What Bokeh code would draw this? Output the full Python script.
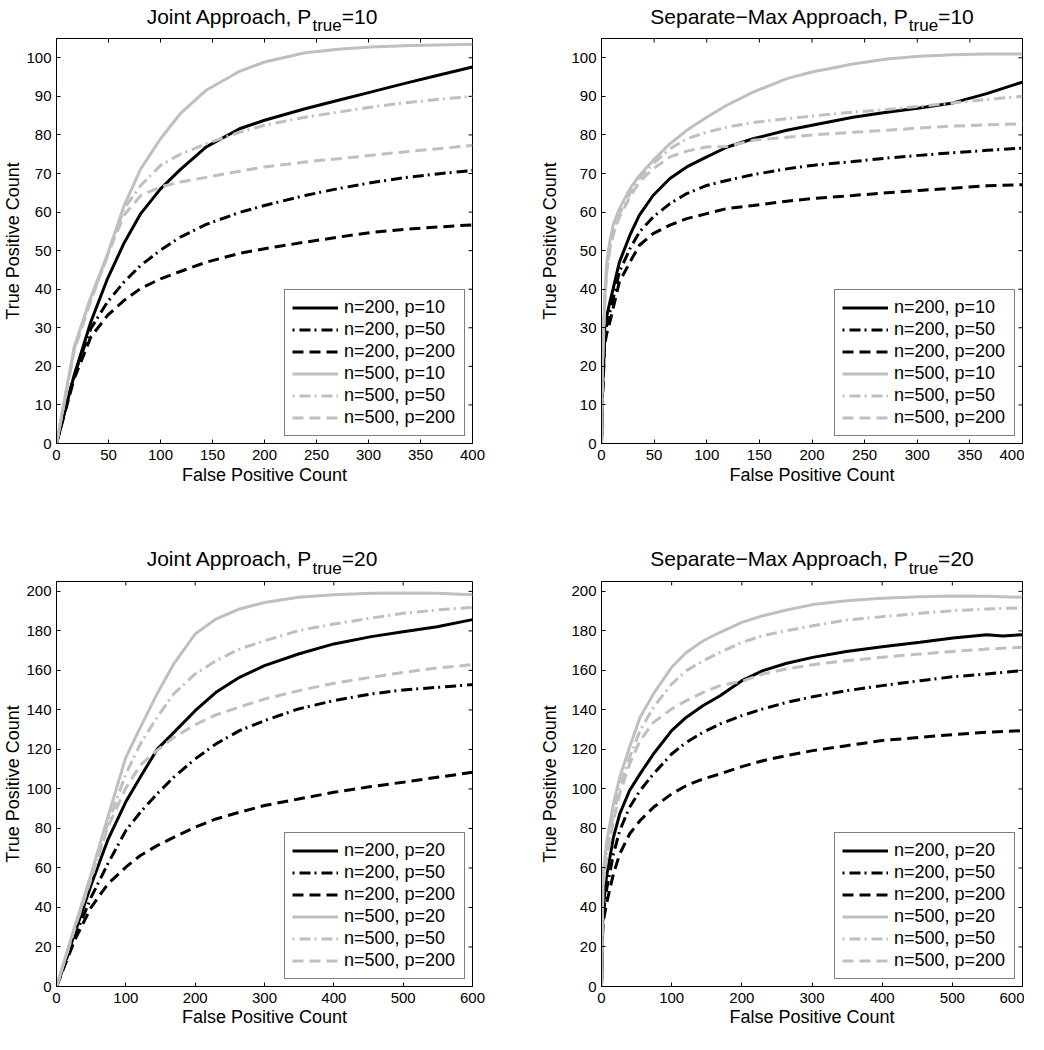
from bokeh.plotting import figure
from bokeh.layouts import column, row
from bokeh.models import FixedTicker, Range1d
from bokeh.core.properties import value
from bokeh.embed import file_html
from bokeh.resources import INLINE

# ---------------- data ----------------
LABELS_10 = ["n=200, p=10", "n=200, p=50", "n=200, p=200",
             "n=500, p=10", "n=500, p=50", "n=500, p=200"]
LABELS_20 = ["n=200, p=20", "n=200, p=50", "n=200, p=200",
             "n=500, p=20", "n=500, p=50", "n=500, p=200"]
X_LABEL = "False Positive Count"
Y_LABEL = "True Positive Count"

# Joint approach, P_true = 10
x_tl = [0, 17, 33, 49, 65, 81, 100, 119, 144, 176, 200, 239, 271, 302, 334, 366, 400]
tl_n200_p10 = [0, 17.7, 31.5, 42.7, 52, 59.6, 66, 71, 76.9, 81.6, 83.8, 86.8, 89, 91.1, 93.3, 95.4, 97.6]
tl_n200_p50 = [0, 17.7, 29.8, 36.7, 41.9, 46.2, 50.1, 53.5, 56.8, 59.9, 61.7, 64.3, 66.1, 67.6, 68.9, 69.9, 70.8]
tl_n200_p200 = [0, 16.8, 27.6, 33.2, 37.1, 40.2, 42.7, 44.6, 47, 49.3, 50.5, 52.2, 53.5, 54.7, 55.5, 56.1, 56.7]
tl_n500_p10 = [0, 25, 38, 49, 61.7, 71.2, 79, 85.5, 91.6, 96.5, 98.9, 101.3, 102.2, 102.8, 103.1, 103.3, 103.5]
tl_n500_p50 = [0, 24.5, 37.5, 48.5, 60.9, 66.9, 72.1, 75, 77.7, 80.7, 82.5, 84.6, 85.9, 87.2, 88.3, 89.2, 90]
tl_n500_p200 = [0, 24, 37, 48.8, 59.2, 64.3, 66.5, 67.8, 69, 70.6, 71.7, 73, 73.8, 74.7, 75.6, 76.4, 77.3]

# Separate-Max approach, P_true = 10
x_tr = [0, 1, 3, 5, 8, 11, 17, 27, 36, 49, 65, 81, 100, 119, 144, 176, 200, 239, 271, 302, 334, 366, 400]
tr_n200_p10 = [0, 14, 29.8, 33, 36.7, 40, 47, 54, 59.2, 64.3, 68.7, 71.7, 74.3, 76.8, 79, 81.2, 82.5, 84.6, 85.9, 87, 88.3, 90.7, 93.7]
tr_n200_p50 = [0, 13, 27.2, 30.5, 34.1, 37.5, 44.5, 50.5, 54.8, 58.7, 62.2, 64.8, 66.9, 68.2, 69.7, 71.2, 72.1, 73.1, 74, 74.7, 75.4, 76, 76.6]
tr_n200_p200 = [0, 12, 25.5, 28.5, 31.5, 35, 41.9, 47, 51.4, 54.4, 56.6, 58.3, 59.6, 60.9, 61.7, 62.8, 63.5, 64.3, 65, 65.6, 66.2, 66.8, 67.1]
tr_n500_p10 = [0, 22, 38, 47, 52.5, 56.6, 60.9, 66, 69.5, 73.4, 77.7, 81.2, 84.6, 87.7, 91.1, 94.6, 96.3, 98.4, 99.7, 100.4, 100.8, 101, 101]
tr_n500_p50 = [0, 21, 37, 45.3, 51, 54.8, 59.6, 64.8, 68.7, 72.5, 76.4, 79, 80.7, 82, 83.2, 84.2, 84.9, 85.9, 86.6, 87.4, 88.3, 89.2, 90]
tr_n500_p200 = [0, 20, 36, 44.5, 50.5, 54, 58.7, 63.9, 67.8, 71.2, 74.3, 75.8, 76.9, 77.0, 78.6, 79.4, 80, 80.7, 81.2, 81.8, 82.3, 82.6, 82.9]

# Joint approach, P_true = 20
x_bl = [0, 26, 50, 74, 100, 121, 145, 169, 200, 230, 264, 300, 349, 400, 454, 500, 549, 600]
bl_n200_p20 = [0, 26.6, 51.5, 74.2, 93.5, 106, 120, 128.5, 139.6, 148.9, 156.5, 162.4, 168.3, 173.4, 177.1, 179.6, 182.1, 185.7]
bl_n200_p50 = [0, 25, 45.2, 62.1, 78.9, 88.2, 97.5, 105.9, 115.2, 122.8, 129.5, 134.6, 140.5, 144.7, 148.1, 150.1, 151.4, 152.8]
bl_n200_p200 = [0, 23.3, 40.1, 51.9, 60.4, 66.3, 71.3, 75.5, 80.6, 84.8, 88.2, 91.6, 94.9, 98.3, 101.2, 103.4, 105.9, 108.4]
bl_n500_p20 = [0, 30, 57, 85.7, 116, 131.2, 148.1, 163.2, 178.5, 186, 191.1, 194.4, 197, 198.3, 199, 199.2, 199, 198.3]
bl_n500_p50 = [0, 29.2, 55.3, 82.3, 107.6, 122.8, 136.3, 148.1, 158.2, 164.9, 170.8, 175, 180.1, 183.5, 186.5, 188.9, 190.6, 191.9]
bl_n500_p200 = [0, 29.2, 54.5, 80.6, 100.5, 112, 119.5, 126, 132.5, 137.5, 141.5, 145.5, 149.7, 153.5, 156.5, 159, 161.2, 162.9]

# Separate-Max approach, P_true = 20
x_br = [0, 2, 7, 17, 26, 40, 55, 74, 100, 121, 145, 169, 200, 230, 264, 301, 349, 400, 454, 501, 549, 572, 600]
br_n200_p20 = [0, 38.4, 55.3, 75.5, 87.4, 99.2, 107.6, 117.7, 129.5, 136.3, 142.2, 147.2, 154.8, 159.9, 163.6, 166.6, 169.6, 172, 174.2, 176.4, 178.1, 177.4, 178.1]
br_n200_p50 = [0, 35.1, 48.6, 67.1, 78.9, 90.7, 99.2, 107.6, 117.7, 123.6, 128.7, 132.9, 137.1, 140.5, 143.8, 146.7, 149.7, 152.3, 154.8, 156.8, 158.2, 159, 159.9]
br_n200_p200 = [0, 31.7, 41.8, 57, 67.1, 77.2, 84, 90.7, 97.5, 101.7, 105.1, 107.6, 111.3, 114.3, 116.9, 119.4, 121.9, 124.5, 126.1, 127.5, 128.7, 129.1, 129.5]
br_n500_p20 = [0, 55.3, 72.2, 92.4, 105.9, 121.1, 136.3, 148.1, 161.6, 169.1, 175, 179.3, 184.3, 187.7, 190.6, 193.3, 195.3, 196.5, 197.3, 197.6, 197.5, 197.3, 197]
br_n500_p50 = [0, 51.9, 67.1, 87.4, 100.8, 116, 129.5, 141.3, 153.1, 159.9, 164.9, 169.1, 174.2, 177.6, 180.1, 182.6, 185.5, 187.2, 188.9, 190.2, 191.1, 191.4, 191.6]
br_n500_p200 = [0, 50.3, 63.7, 84, 97.5, 112.6, 124.5, 133.7, 140.5, 144.7, 148.9, 152.3, 154.5, 158.2, 160.7, 162.9, 164.9, 166.6, 168.3, 169.6, 170.8, 171.2, 171.7]

# ---------------- styling ----------------
FONT = "Liberation Sans"
BLACK = "#000000"
GRAY = "#bfbfbf"
STYLES = [(BLACK, "solid"), (BLACK, "2 5 11 4"), (BLACK, "11 6"),
          (GRAY, "solid"), (GRAY, "2 5 11 4"), (GRAY, "11 6")]
FW, FH = 421, 405
TICK = 4

ARIAL = {'J': 500, 'o': 556, 'i': 222, 'n': 556, 't': 278, ' ': 278, 'A': 667,
         'p': 556, 'r': 333, 'a': 556, 'c': 500, 'h': 556, ',': 278, 'P': 667,
         'S': 667, 'e': 556, '\u2212': 584, 'M': 833, 'x': 500, 'u': 556,
         '=': 584, '0': 556, '1': 556, '2': 556}


def tw(s, size):
    return sum(ARIAL.get(c, 556) for c in s) / 1000.0 * size


def title_strip(main, ptrue, width, height, center, base_main, base_sub):
    s = figure(width=width, height=height, x_range=Range1d(0, width),
               y_range=Range1d(height, 0), x_axis_type=None, y_axis_type=None,
               output_backend="svg", toolbar_location=None,
               min_border_left=0, min_border_right=0, min_border_top=0,
               min_border_bottom=0)
    s.outline_line_color = None
    s.background_fill_color = "white"
    s.border_fill_color = "white"
    eq = "=" + str(ptrue)
    wm, ws, we = tw(main, 21), tw("true", 17), tw(eq, 21)
    start = center - (wm + ws + we) / 2
    s.text(x=[start, start + wm + ws], y=[base_main, base_main], text=[main, eq],
           text_font=value(FONT), text_font_size=value("21px"),
           text_color=BLACK, text_baseline="alphabetic", text_align="left")
    s.text(x=[start + wm], y=[base_sub], text=["true"],
           text_font=value(FONT), text_font_size=value("17px"),
           text_color=BLACK, text_baseline="alphabetic", text_align="left")
    return s


def make(xs, ys, labels, xmax, xstep, ymax, ystep, left, right, bottom,
         ylab_standoff, xlab_standoff):
    p = figure(width=left + FW + right, height=2 + FH + bottom,
               x_range=Range1d(0, xmax), y_range=Range1d(0, ymax),
               output_backend="svg", toolbar_location=None,
               min_border_left=left, min_border_right=right,
               min_border_top=2, min_border_bottom=bottom)
    p.background_fill_color = "white"
    p.border_fill_color = "white"
    p.outline_line_color = BLACK
    p.outline_line_width = 1
    p.xgrid.visible = False
    p.ygrid.visible = False

    xticks = list(range(0, xmax + 1, xstep))
    yticks = list(range(0, ymax + 1, ystep))
    for ax, tk, st in ((p.xaxis[0], xticks, 6), (p.yaxis[0], yticks, 5)):
        ax.ticker = FixedTicker(ticks=tk)
        ax.major_tick_in = TICK
        ax.major_tick_out = 0
        ax.minor_tick_line_color = None
        ax.axis_line_color = BLACK
        ax.major_tick_line_color = BLACK
        ax.major_label_text_font = FONT
        ax.major_label_text_font_size = "15px"
        ax.major_label_text_color = BLACK
        ax.major_label_standoff = st
        ax.axis_label_text_font = FONT
        ax.axis_label_text_font_size = "18px"
        ax.axis_label_text_font_style = "normal"
        ax.axis_label_text_color = BLACK
    p.xaxis.axis_label = X_LABEL
    p.xaxis.axis_label_standoff = xlab_standoff
    p.yaxis.axis_label = Y_LABEL
    p.yaxis.axis_label_standoff = ylab_standoff

    # tick marks on the top and right edges of the box (MATLAB "box on")
    dx = xmax / FW
    dy = ymax / FH
    p.segment(x0=xticks, y0=[ymax] * len(xticks), x1=xticks,
              y1=[ymax - TICK * dy] * len(xticks), line_color=BLACK, line_width=1)
    p.segment(x0=[xmax] * len(yticks), y0=yticks, x1=[xmax - TICK * dx] * len(yticks),
              y1=yticks, line_color=BLACK, line_width=1)

    for yv, lab, (col, dash) in zip(ys, labels, STYLES):
        p.line(xs, yv, line_color=col, line_dash=dash, line_width=3,
               legend_label=lab)

    lg = p.legend[0]
    lg.location = "bottom_right"
    lg.margin = 7
    lg.padding = 7
    lg.spacing = 1
    lg.glyph_width = 46
    lg.glyph_height = 21
    lg.label_height = 21
    lg.label_width = 113
    lg.label_standoff = 6
    lg.label_text_font = FONT
    lg.label_text_font_size = "18px"
    lg.label_text_color = BLACK
    lg.border_line_color = BLACK
    lg.border_line_width = 1
    lg.background_fill_color = "white"
    lg.background_fill_alpha = 1.0
    return p


LW = 512   # left column canvas width
RW = 512   # right column canvas width
L_LEFT, L_RIGHT = 51, LW - 51 - FW
R_LEFT, R_RIGHT = 89, RW - 89 - FW

t1 = title_strip("Joint Approach, P", 10, LW, 36, L_LEFT + FW / 2, 16, 25)
t2 = title_strip("Separate\u2212Max Approach, P", 10, RW, 36, R_LEFT + FW / 2, 16, 25)
t3 = title_strip("Joint Approach, P", 20, LW, 64, L_LEFT + FW / 2, 43, 53)
t4 = title_strip("Separate\u2212Max Approach, P", 20, RW, 64, R_LEFT + FW / 2, 43, 53)

p1 = make(x_tl, [tl_n200_p10, tl_n200_p50, tl_n200_p200, tl_n500_p10, tl_n500_p50, tl_n500_p200],
          LABELS_10, 400, 50, 105, 10, L_LEFT, L_RIGHT, 72, 0, 2)
p2 = make(x_tr, [tr_n200_p10, tr_n200_p50, tr_n200_p200, tr_n500_p10, tr_n500_p50, tr_n500_p200],
          LABELS_10, 400, 50, 105, 10, R_LEFT, R_RIGHT, 72, 8, 2)
p3 = make(x_bl, [bl_n200_p20, bl_n200_p50, bl_n200_p200, bl_n500_p20, bl_n500_p50, bl_n500_p200],
          LABELS_20, 600, 100, 205, 20, L_LEFT, L_RIGHT, 46, 0, 1)
p4 = make(x_br, [br_n200_p20, br_n200_p50, br_n200_p200, br_n500_p20, br_n500_p50, br_n500_p200],
          LABELS_20, 600, 100, 205, 20, R_LEFT, R_RIGHT, 46, 8, 1)

layout = column(row(t1, t2), row(p1, p2), row(t3, t4), row(p3, p4))
open("out.html", "w").write(file_html(layout, INLINE))
